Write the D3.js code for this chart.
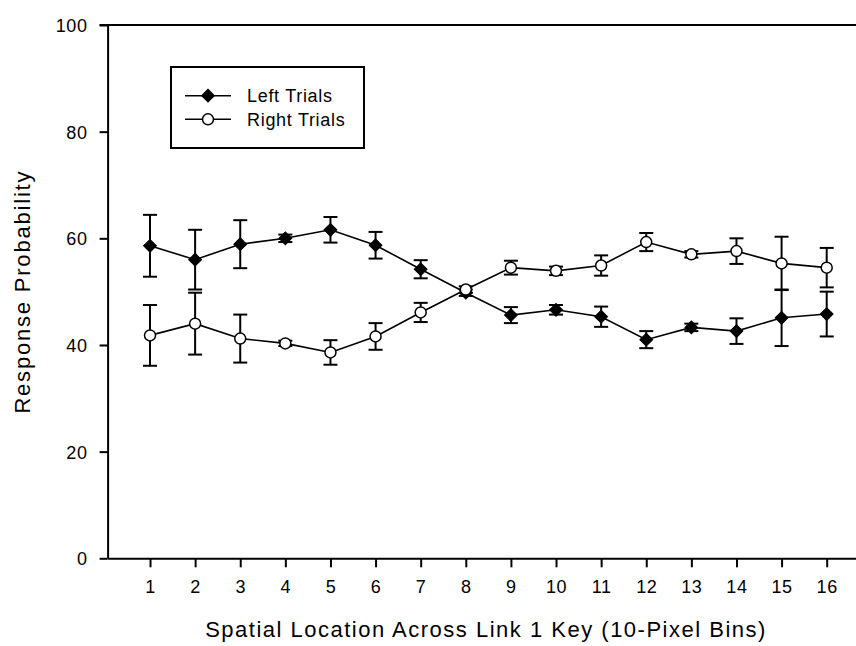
<!DOCTYPE html>
<html>
<head>
<meta charset="utf-8">
<script src="https://cdn.jsdelivr.net/npm/d3@7"></script>
<style>
  html, body { margin: 0; padding: 0; background: #fff; }
  svg { display: block; }
  text { font-family: "Liberation Sans", Arial, sans-serif; fill: #000; }
</style>
</head>
<body>
<script>
// Spatial bins (10-pixel bins across the Link 1 key)
const bins = [1, 2, 3, 4, 5, 6, 7, 8, 9, 10, 11, 12, 13, 14, 15, 16];

// Response probability (%) and standard errors
const leftTrials  = [58.6, 56.0, 58.9, 60.0, 61.6, 58.7, 54.2, 49.8, 45.6, 46.6, 45.3, 41.0, 43.3, 42.6, 45.1, 45.8];
const leftErr     = [5.8, 5.6, 4.5, 0.7, 2.4, 2.5, 1.7, 0.6, 1.5, 0.9, 1.9, 1.6, 0.7, 2.4, 5.3, 4.2];
const rightTrials = [41.8, 44.0, 41.2, 40.3, 38.6, 41.6, 46.1, 50.4, 54.5, 53.9, 54.9, 59.3, 57.0, 57.6, 55.3, 54.5];
const rightErr    = [5.7, 5.8, 4.5, 0.5, 2.3, 2.5, 1.8, 0.6, 1.3, 0.8, 1.9, 1.7, 0.6, 2.4, 5.0, 3.7];

const yTicks = [0, 20, 40, 60, 80, 100];
const seriesNames = ["Left Trials", "Right Trials"];

const W = 856, H = 646;
const svg = d3.select("body").append("svg").attr("width", W).attr("height", H);

const x = d3.scaleLinear().domain([0.06, 16.9]).range([107.6, 867.3]);
const y = d3.scaleLinear().domain([0, 100]).range([558.3, 25]);

// Axes
const xAxis = svg.append("g").attr("transform", `translate(0,${y(0)})`)
  .call(d3.axisBottom(x).tickValues(bins).tickSize(9).tickSizeOuter(0).tickPadding(13));
const yAxis = svg.append("g").attr("transform", `translate(${x(0.06)},0)`)
  .call(d3.axisLeft(y).tickValues(yTicks).tickSize(8).tickSizeOuter(0).tickPadding(12));

[xAxis, yAxis].forEach(g => {
  g.select(".domain").attr("stroke", "#000").attr("stroke-width", 2);
  g.selectAll(".tick line").attr("stroke", "#000").attr("stroke-width", 2);
  g.selectAll(".tick text").attr("font-size", 18).attr("fill", "#000")
    .style("font-family", "'Liberation Sans', Arial, sans-serif")
    .style("letter-spacing", "0.6px");
});
yAxis.selectAll(".tick text").attr("dy", "0.36em");

// Top frame line
svg.append("line")
  .attr("x1", x(0.06) - 8).attr("x2", x(16.9))
  .attr("y1", y(100)).attr("y2", y(100))
  .attr("stroke", "#000").attr("stroke-width", 2);

// Axis titles
svg.append("text")
  .attr("x", 486).attr("y", 637)
  .attr("text-anchor", "middle")
  .attr("font-size", 22)
  .style("letter-spacing", "1.5px")
  .text("Spatial Location Across Link 1 Key (10-Pixel Bins)");

svg.append("text")
  .attr("transform", `translate(30,${(y(0) + y(100)) / 2}) rotate(-90)`)
  .attr("text-anchor", "middle")
  .attr("font-size", 22)
  .style("letter-spacing", "1.8px")
  .text("Response Probability");

// Series
const series = [
  { name: seriesNames[0], values: leftTrials, err: leftErr, filled: true },
  { name: seriesNames[1], values: rightTrials, err: rightErr, filled: false }
];

const line = d3.line().x((d, i) => x(bins[i])).y(d => y(d));
// square turned 45° gives an even-sided diamond
const diamond = d3.symbol().type(d3.symbolSquare).size(82);

series.forEach(s => {
  const g = svg.append("g");
  // error bars
  const eb = g.selectAll(".eb").data(s.values).join("g");
  eb.append("line")
    .attr("x1", (d, i) => x(bins[i])).attr("x2", (d, i) => x(bins[i]))
    .attr("y1", (d, i) => y(d - s.err[i])).attr("y2", (d, i) => y(d + s.err[i]))
    .attr("stroke", "#000").attr("stroke-width", 2);
  [-1, 1].forEach(sgn => {
    eb.append("line")
      .attr("x1", (d, i) => x(bins[i]) - 7).attr("x2", (d, i) => x(bins[i]) + 7)
      .attr("y1", (d, i) => y(d + sgn * s.err[i])).attr("y2", (d, i) => y(d + sgn * s.err[i]))
      .attr("stroke", "#000").attr("stroke-width", 2);
  });
  // connecting line
  g.append("path").datum(s.values).attr("d", line)
    .attr("fill", "none").attr("stroke", "#000").attr("stroke-width", 1.6);
});

// markers drawn last so they sit above lines
series.forEach(s => {
  const g = svg.append("g");
  if (s.filled) {
    g.selectAll("path.m").data(s.values).join("path")
      .attr("d", diamond)
      .attr("transform", (d, i) => `translate(${x(bins[i])},${y(d)}) rotate(45)`)
      .attr("fill", "#000").attr("stroke", "#000").attr("stroke-width", 1);
  } else {
    g.selectAll("circle.m").data(s.values).join("circle")
      .attr("cx", (d, i) => x(bins[i])).attr("cy", d => y(d)).attr("r", 5.5)
      .attr("fill", "#fff").attr("stroke", "#000").attr("stroke-width", 1.5);
  }
});

// Legend
const lg = svg.append("g");
lg.append("rect").attr("x", 171).attr("y", 67).attr("width", 193).attr("height", 81)
  .attr("fill", "#fff").attr("stroke", "#000").attr("stroke-width", 2);
series.forEach((s, k) => {
  const ly = 95.7 + k * 23.6;
  lg.append("line").attr("x1", 185).attr("x2", 231).attr("y1", ly).attr("y2", ly)
    .attr("stroke", "#000").attr("stroke-width", 1.6);
  if (s.filled) {
    lg.append("path").attr("d", diamond).attr("transform", `translate(208,${ly}) rotate(45)`)
      .attr("fill", "#000").attr("stroke", "#000");
  } else {
    lg.append("circle").attr("cx", 208).attr("cy", ly).attr("r", 5.5)
      .attr("fill", "#fff").attr("stroke", "#000").attr("stroke-width", 1.5);
  }
  lg.append("text").attr("x", 247).attr("y", ly).attr("dy", "0.36em")
    .attr("font-size", 18).style("letter-spacing", "0.7px")
    .text(s.name);
});
</script>
</body>
</html>
